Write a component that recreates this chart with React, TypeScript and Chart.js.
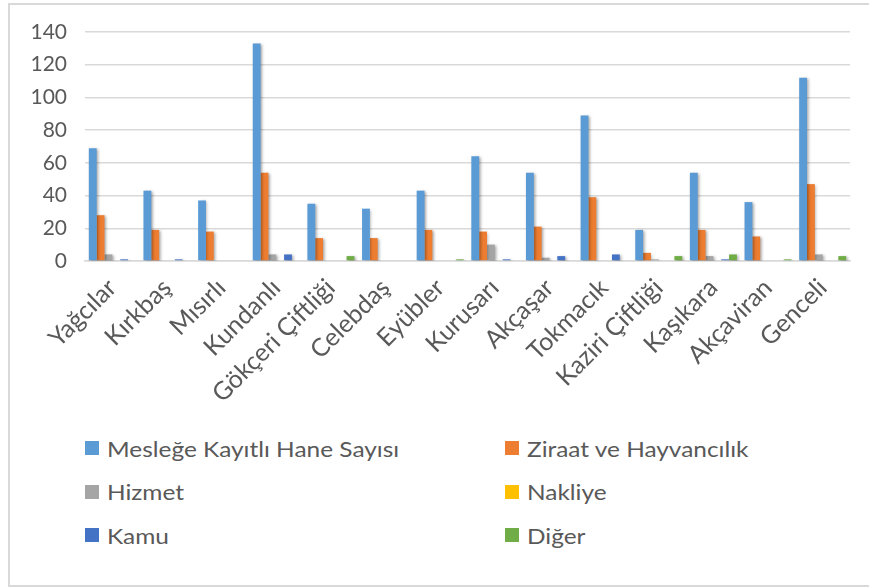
import React, { useEffect, useRef } from "react";
import { Chart, registerables } from "chart.js";

Chart.register(...registerables);

const categories = [
  "Yağcılar",
  "Kırkbaş",
  "Mısırlı",
  "Kundanlı",
  "Gökçeri Çiftliği",
  "Celebdaş",
  "Eyübler",
  "Kurusarı",
  "Akçaşar",
  "Tokmacık",
  "Kaziri Çiftliği",
  "Kaşıkara",
  "Akçaviran",
  "Genceli",
];

const seriesNames = [
  "Mesleğe Kayıtlı Hane Sayısı",
  "Ziraat ve Hayvancılık",
  "Hizmet",
  "Nakliye",
  "Kamu",
  "Diğer",
];

const seriesColors = ["#5B9BD5", "#ED7D31", "#A5A5A5", "#FFC000", "#4472C4", "#70AD47"];

const meslegeKayitli = [69, 43, 37, 133, 35, 32, 43, 64, 54, 89, 19, 54, 36, 112];
const ziraatHayvancilik = [28, 19, 18, 54, 14, 14, 19, 18, 21, 39, 5, 19, 15, 47];
const hizmet = [4, 0, 0, 4, 0, 0, 0, 10, 2, 0, 1, 3, 0, 4];
const nakliye = [0, 0, 0, 0, 0, 0, 0, 0, 0, 0, 0, 0, 0, 0];
const kamu = [1, 1, 0, 4, 0, 0, 0, 1, 3, 4, 0, 1, 0, 0];
const diger = [0, 0, 0, 0, 3, 0, 1, 0, 0, 0, 3, 4, 1, 3];

const seriesValues = [meslegeKayitli, ziraatHayvancilik, hizmet, nakliye, kamu, diger];

const yTicksMax = 140;
const yTicksStep = 20;

const FONT = "Lato, 'Noto Sans', sans-serif";
const TEXT = "#595959";
const CANVAS_W = 869;
const CANVAS_H = 430;

export default function App() {
  const ref = useRef<HTMLCanvasElement>(null);

  useEffect(() => {
    if (!ref.current) return;
    const shadow = {
      id: "barShadow",
      beforeDatasetsDraw(chart: any) {
        const ctx = chart.ctx;
        ctx.save();
        ctx.shadowColor = "rgba(0,0,0,0.35)";
        ctx.shadowBlur = 3;
        ctx.shadowOffsetX = 1.5;
        ctx.shadowOffsetY = 1;
      },
      afterDatasetsDraw(chart: any) {
        chart.ctx.restore();
      },
    };
    const chart = new Chart(ref.current, {
      type: "bar",
      data: {
        labels: categories,
        datasets: seriesNames.map((name, i) => ({
          label: name,
          data: seriesValues[i],
          backgroundColor: seriesColors[i],
          borderWidth: 0,
          categoryPercentage: 0.86,
          barPercentage: 1.0,
        })),
      },
      options: {
        responsive: false,
        animation: false,
        devicePixelRatio: 1,
        layout: { padding: { top: 32, right: 19, left: 0, bottom: 0 } },
        plugins: {
          legend: { display: false },
          tooltip: { enabled: false },
        },
        scales: {
          x: {
            grid: { display: false },
            border: { display: true, color: "#d9d9d9", width: 1.5 },
            ticks: {
              color: TEXT,
              font: { family: FONT, size: 25 },
              maxRotation: 45,
              minRotation: 45,
              autoSkip: false,
              padding: 4,
            },
            afterFit(s: any) {
              s.height = CANVAS_H - 261;
            },
          },
          y: {
            min: 0,
            max: yTicksMax,
            ticks: {
              stepSize: yTicksStep,
              color: TEXT,
              font: { family: FONT, size: 21 },
              padding: 18,
            },
            grid: { color: "#d9d9d9", lineWidth: 1.5, drawTicks: false },
            border: { display: false },
            afterFit(s: any) {
              s.width = 85;
            },
          },
        },
      },
      plugins: [shadow],
    });
    return () => chart.destroy();
  }, []);

  const rowY = [448, 491.5, 535];
  const colX = [85, 505];

  return (
    <div>
      <div
        style={{
          position: "fixed",
          left: 8,
          top: 3,
          width: 861,
          height: 584,
          boxSizing: "border-box",
          borderLeft: "2px solid #d9d9d9",
          borderTop: "2px solid #d9d9d9",
          borderBottom: "2px solid #d9d9d9",
          background: "#fff",
        }}
      />
      <canvas
        ref={ref}
        width={CANVAS_W}
        height={CANVAS_H}
        style={{ position: "fixed", left: 0, top: 0, width: CANVAS_W, height: CANVAS_H }}
      />
      {seriesNames.map((name, i) => {
        const col = i % 2;
        const row = Math.floor(i / 2);
        return (
          <div
            key={name}
            style={{
              position: "fixed",
              left: colX[col],
              top: rowY[row] - 15,
              height: 30,
              display: "flex",
              alignItems: "center",
              fontFamily: FONT,
              fontSize: 22,
              color: TEXT,
              whiteSpace: "nowrap",
            }}
          >
            <span
              style={{
                display: "inline-block",
                width: 14,
                height: 14,
                background: seriesColors[i],
                marginRight: 8,
              }}
            />
            <span style={{ display: "inline-block", transform: "scaleX(1.11)", transformOrigin: "left center" }}>
              {name}
            </span>
          </div>
        );
      })}
    </div>
  );
}
